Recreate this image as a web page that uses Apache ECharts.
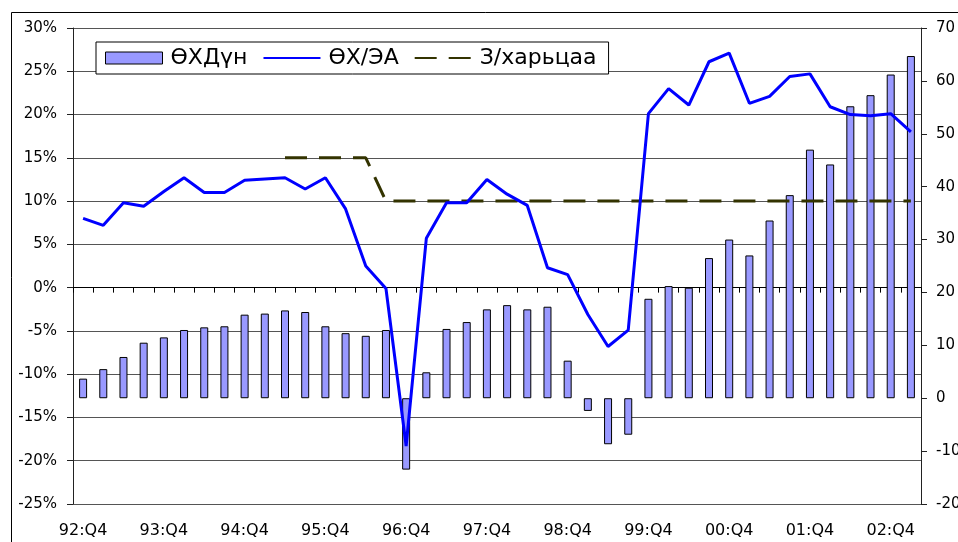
<!DOCTYPE html>
<html>
<head>
<meta charset="utf-8">
<script src="https://cdn.jsdelivr.net/npm/echarts@6/dist/echarts.min.js"></script>
<style>
  html, body { margin: 0; padding: 0; background: #fff; }
  #chart { width: 958px; height: 542px; }
</style>
</head>
<body>
<div id="chart"></div>
<script>
  // quarters 92:Q4 .. 03:Q1
  var categories = [
    '92:Q4', '93:Q1', '93:Q2', '93:Q3', '93:Q4', '94:Q1', '94:Q2', '94:Q3', '94:Q4',
    '95:Q1', '95:Q2', '95:Q3', '95:Q4', '96:Q1', '96:Q2', '96:Q3', '96:Q4',
    '97:Q1', '97:Q2', '97:Q3', '97:Q4', '98:Q1', '98:Q2', '98:Q3', '98:Q4',
    '99:Q1', '99:Q2', '99:Q3', '99:Q4', '00:Q1', '00:Q2', '00:Q3', '00:Q4',
    '01:Q1', '01:Q2', '01:Q3', '01:Q4', '02:Q1', '02:Q2', '02:Q3', '02:Q4', '03:Q1'
  ]
  // ӨХДүн, right axis
  var barValues = [
    3.7, 5.5, 7.8, 10.5, 11.5, 12.9, 13.4, 13.6, 15.8, 16.0,
    16.6, 16.3, 13.6, 12.3, 11.8, 12.9, -13.5, 4.9, 13.1, 14.4,
    16.8, 17.6, 16.8, 17.3, 7.1, -2.4, -8.7, -6.9, 18.8, 21.2,
    20.9, 26.5, 30.0, 27.0, 33.6, 38.4, 47.0, 44.2, 55.2, 57.3, 61.2, 64.7
  ]
  // ӨХ/ЭА, left axis (%)
  var lineValues = [
    8.0, 7.2, 9.8, 9.4, 11.1, 12.7, 11.0, 11.0, 12.4, 12.55,
    12.7, 11.4, 12.7, 9.1, 2.5, -0.1, -18.3, 5.7, 9.8, 9.8,
    12.5, 10.8, 9.5, 2.3, 1.5, -3.1, -6.8, -4.9, 20.1, 23.0,
    21.1, 26.1, 27.1, 21.3, 22.1, 24.4, 24.7, 20.9, 20.0, 19.85, 20.1, 18.0
  ]
  // З/харьцаа, left axis (%)
  var ratioValues = [
    null, null, null, null, null, null, null, null, null, null,
    15, 15, 15, 15, 15, 10, 10, 10, 10, 10,
    10, 10, 10, 10, 10, 10, 10, 10, 10, 10,
    10, 10, 10, 10, 10, 10, 10, 10, 10, 10, 10, 10
  ]
  var seriesNames = ['ӨХДүн', 'ӨХ/ЭА', 'З/харьцаа']

  var font = 'DejaVu Sans'
  // hides the circle echarts puts in the middle of a line legend icon
  var noSymbol = { color: 'rgba(0,0,0,0)', borderWidth: 0, opacity: 0 }

  var myChart = echarts.init(document.getElementById('chart'))
  myChart.setOption({
    backgroundColor: '#fff',
    animation: false,
    graphic: [{
      type: 'rect',
      shape: { x: 11.5, y: 12.5, width: 1000, height: 600 },
      style: { fill: 'none', stroke: '#000', lineWidth: 1 },
      silent: true,
      z: -10
    }],
    legend: {
      left: 96,
      top: 42,
      padding: [5, 12, 5, 9],
      itemGap: 15,
      itemWidth: 57,
      itemHeight: 12,
      borderColor: '#000',
      borderWidth: 1,
      borderRadius: 0,
      backgroundColor: '#fff',
      textStyle: { fontFamily: font, fontSize: 22, color: '#000', padding: [0, 0, 0, 3] },
      data: [
        { name: seriesNames[0], icon: 'rect', itemStyle: { color: '#9999ff', borderColor: '#000', borderWidth: 1 } },
        { name: seriesNames[1], itemStyle: noSymbol },
        { name: seriesNames[2], itemStyle: noSymbol }
      ]
    },
    grid: { left: 73, right: 37, top: 28, bottom: 38, outerBoundsMode: 'none', containLabel: false },
    xAxis: [
      {
        type: 'category',
        data: categories,
        position: 'bottom',
        axisLine: { show: false, onZero: false },
        axisTick: { show: false },
        axisLabel: { interval: 3, margin: 19, fontFamily: font, fontSize: 16, color: '#000' },
        splitLine: { show: false }
      },
      {
        type: 'category',
        data: categories,
        position: 'bottom',
        axisLine: { show: true, onZero: true, onZeroAxisIndex: 0, lineStyle: { color: '#000', width: 1 } },
        axisTick: { show: true, interval: 0, length: 5, lineStyle: { color: '#000' } },
        axisLabel: { show: false },
        splitLine: { show: false }
      }
    ],
    yAxis: [
      {
        type: 'value',
        min: -25,
        max: 30,
        interval: 5,
        position: 'left',
        axisLine: { show: true, lineStyle: { color: '#222', width: 1 } },
        axisTick: { show: true, length: 6, lineStyle: { color: '#222' } },
        axisLabel: { formatter: '{value}%', margin: 16, fontFamily: font, fontSize: 15, color: '#000' },
        splitLine: { show: true, lineStyle: { color: '#555', width: 1 } }
      },
      {
        type: 'value',
        min: -20,
        max: 70,
        interval: 10,
        position: 'right',
        axisLine: { show: true, lineStyle: { color: '#222', width: 1 } },
        axisTick: { show: true, length: 6, lineStyle: { color: '#222' } },
        axisLabel: { margin: 15, fontFamily: font, fontSize: 15, color: '#000' },
        splitLine: { show: false }
      }
    ],
    series: [
      {
        name: seriesNames[0],
        type: 'bar',
        xAxisIndex: 0,
        yAxisIndex: 1,
        barWidth: 8,
        itemStyle: { color: '#9999ff', borderColor: '#000', borderWidth: 1 },
        data: barValues,
        z: 2
      },
      {
        name: seriesNames[1],
        type: 'line',
        xAxisIndex: 0,
        yAxisIndex: 0,
        symbol: 'none',
        lineStyle: { color: '#0000ff', width: 3 },
        itemStyle: { color: '#0000ff' },
        data: lineValues,
        z: 4
      },
      {
        name: seriesNames[2],
        type: 'line',
        xAxisIndex: 0,
        yAxisIndex: 0,
        symbol: 'none',
        connectNulls: false,
        lineStyle: { color: '#333300', width: 3, type: [22, 12] },
        itemStyle: { color: '#333300' },
        data: ratioValues,
        z: 3
      }
    ]
  })
</script>
</body>
</html>
